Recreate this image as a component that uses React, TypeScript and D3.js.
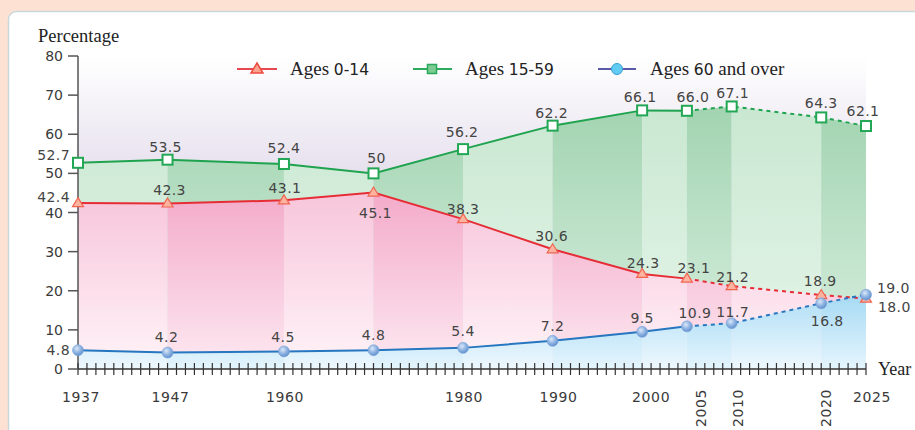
import React from 'react'
import * as d3 from 'd3'

// census / projection years and the share of each age group (%)
const years = [1937, 1947, 1960, 1970, 1980, 1990, 2000, 2005, 2010, 2020, 2025]
const ages0to14 = [42.4, 42.3, 43.1, 45.1, 38.3, 30.6, 24.3, 23.1, 21.2, 18.9, 18.0]
const ages15to59 = [52.7, 53.5, 52.4, 50, 56.2, 62.2, 66.1, 66.0, 67.1, 64.3, 62.1]
const ages60plus = [4.8, 4.2, 4.5, 4.8, 5.4, 7.2, 9.5, 10.9, 11.7, 16.8, 19.0]

// label texts as printed
const labels0to14 = ['42.4', '42.3', '43.1', '45.1', '38.3', '30.6', '24.3', '23.1', '21.2', '18.9', '18.0']
const labels15to59 = ['52.7', '53.5', '52.4', '50', '56.2', '62.2', '66.1', '66.0', '67.1', '64.3', '62.1']
const labels60plus = ['4.8', '4.2', '4.5', '4.8', '5.4', '7.2', '9.5', '10.9', '11.7', '16.8', '19.0']

const xTickLabels = [1937, 1947, 1960, 1980, 1990, 2000, 2025]
const xTickLabelsRotated = [2005, 2010, 2020]
const yTicks = [0, 10, 20, 30, 40, 50, 60, 70, 80]

// first projected point: dashed from here on
const dashFrom = 7

// label offsets [dx, dy, anchor]
type Off = [number, number, string]
const off0to14: Off[] = [
  [-8, -1.5, 'end'], [2, -9, 'middle'], [1, -7, 'middle'], [2, 25, 'middle'], [0, -5, 'middle'],
  [-1, -8, 'middle'], [1, -6, 'middle'], [7, -6, 'middle'], [1, -4, 'middle'], [-1, -9, 'middle'], [12, 13, 'start']
]
const off15to59: Off[] = [
  [-8, -3, 'end'], [-2, -8, 'middle'], [0, -11, 'middle'], [3, -10, 'middle'], [-1, -12, 'middle'],
  [-1, -8, 'middle'], [-2, -8, 'middle'], [6, -9, 'middle'], [1, -8, 'middle'], [0, -9, 'middle'], [-3, -10, 'middle']
]
const off60plus: Off[] = [
  [-8, 5, 'end'], [-1, -11, 'middle'], [-1, -9, 'middle'], [0, -10, 'middle'], [0, -12, 'middle'],
  [0, -10, 'middle'], [0, -9, 'middle'], [8, -8, 'middle'], [1, -6, 'middle'], [6, 23, 'middle'], [11, -2, 'start']
]
const tickLabelDx: Record<number, number> = { 1937: 3, 1947: 3, 1960: 1, 1980: 1, 1990: 6, 2000: 9, 2005: 14, 2010: 6, 2020: 5, 2025: 6 }

const W = 915
const H = 430
const sans = '"DejaVu Sans", Verdana, sans-serif'
const serif = '"Liberation Serif", "Times New Roman", serif'

const App: React.FC = () => {
  const x = d3.scaleLinear().domain([1937, 2025]).range([78, 866])
  const y = d3.scaleLinear().domain([0, 80]).range([369, 56])
  const idx = d3.range(years.length)

  const line = (vals: number[]) =>
    d3.line<number>().x((i) => x(years[i])).y((i) => y(vals[i]))
  const area = (vals: number[]) =>
    d3.area<number>().x((i) => x(years[i])).y0(y(0)).y1((i) => y(vals[i]))

  // each stretch between two years gets its own band, alternating light / dark
  const segments = (vals: number[], key: string) =>
    idx.slice(0, -1).map((i) => (
      <path
        key={key + i}
        d={area(vals)([i, i + 1]) || ''}
        fill={`url(#${key}${i % 2 === 1 ? 'Dark' : 'Light'})`}
      />
    ))

  const series = [
    { vals: ages15to59, color: '#1fa34f', labels: labels15to59, off: off15to59, marker: 'square' },
    { vals: ages0to14, color: '#e62d36', labels: labels0to14, off: off0to14, marker: 'triangle' },
    { vals: ages60plus, color: '#2676c0', labels: labels60plus, off: off60plus, marker: 'circle' }
  ]

  const marker = (kind: string, cx: number, cy: number, key: string) => {
    if (kind === 'square')
      return <rect key={key} x={cx - 5} y={cy - 5} width={10} height={10} fill="#fff" stroke="#22a755" strokeWidth={2} />
    if (kind === 'triangle')
      return <path key={key} d={`M${cx},${cy - 5.5}L${cx + 5.5},${cy + 3.5}L${cx - 5.5},${cy + 3.5}Z`} fill="#fcb3a0" stroke="#f06450" strokeWidth={1.2} />
    return <circle key={key} cx={cx} cy={cy} r={5.5} fill="url(#ball)" stroke="#7aa3d8" strokeWidth={0.6} />
  }

  const grad = (id: string, y1: number, y2: number, c1: string, c2: string) => (
    <linearGradient id={id} gradientUnits="userSpaceOnUse" x1={0} x2={0} y1={y1} y2={y2}>
      <stop offset="0" stopColor={c1} />
      <stop offset="1" stopColor={c2} />
    </linearGradient>
  )

  return (
    <svg width={W} height={H} style={{ position: 'absolute', left: 0, top: 0 }}>
      <defs>
        {grad('bg', 56, 170, '#ffffff', '#e7e1ee')}
        {grad('gLight', 60, 360, '#c3e5cc', '#e6f5ea')}
        {grad('gDark', 60, 360, '#98cfa8', '#d9efe0')}
        {grad('pLight', 185, 369, '#f7c3d9', '#fff4f8')}
        {grad('pDark', 185, 369, '#f3a8c8', '#fde9f1')}
        {grad('bLight', 290, 369, '#abdcf5', '#eef8fe')}
        {grad('bDark', 290, 369, '#a2d8f3', '#e5f5fd')}
        <radialGradient id="ball" cx="0.4" cy="0.35" r="0.7">
          <stop offset="0" stopColor="#dbe8f8" />
          <stop offset="0.5" stopColor="#92b6e3" />
          <stop offset="1" stopColor="#5a8bcc" />
        </radialGradient>
      </defs>

      <rect width={W} height={H} fill="#fde2d3" />
      <rect x={8.5} y={11.5} width={W} height={H} rx={8} fill="#fff" stroke="#c8d8dc" strokeWidth={1.5} />

      <rect x={x(1937)} y={y(80)} width={x(2025) - x(1937)} height={y(0) - y(80)} fill="url(#bg)" />

      {segments(ages15to59, 'g')}
      {segments(ages0to14, 'p')}
      {segments(ages60plus, 'b')}

      {/* axes */}
      <line x1={x(1937)} x2={x(2025)} y1={y(0)} y2={y(0)} stroke="#333" strokeWidth={1.5} />
      <line x1={x(1937)} x2={x(1937)} y1={y(0)} y2={y(80)} stroke="#555" strokeWidth={1.5} />
      {d3.range(1937, 2026).map((yr) => (
        <line key={yr} x1={x(yr)} x2={x(yr)} y1={y(0) - 6} y2={y(0) + 6} stroke="#333" strokeWidth={1.2} />
      ))}
      {yTicks.map((t) => (
        <g key={t}>
          <line x1={x(1937) - 10} x2={x(1937)} y1={y(t)} y2={y(t)} stroke="#555" strokeWidth={1.5} />
          <text x={63} y={y(t) + 5} textAnchor="end" fontFamily={sans} fontSize={14} fill="#3a3a3a">{t}</text>
        </g>
      ))}
      {xTickLabels.map((t) => (
        <text key={t} x={x(t) + (tickLabelDx[t] || 0)} y={402} textAnchor="middle" fontFamily={sans} fontSize={14} letterSpacing={0.6} fill="#3a3a3a">{t}</text>
      ))}
      {xTickLabelsRotated.map((t) => {
        const tx = x(t) + (tickLabelDx[t] || 0) + 5
        return (
          <text key={t} transform={`translate(${tx},408) rotate(-90)`} textAnchor="middle" fontFamily={sans} fontSize={14} letterSpacing={0.6} fill="#3a3a3a">{t}</text>
        )
      })}

      <text x={38} y={42} fontFamily={serif} fontSize={18.5} fill="#222">Percentage</text>
      <text x={878} y={375} fontFamily={serif} fontSize={18} fill="#222">Year</text>

      {/* lines, solid up to 2005 and dashed after */}
      {series.map((s) => (
        <g key={s.color}>
          <path d={line(s.vals)(idx.slice(0, dashFrom + 1)) || ''} fill="none" stroke={s.color} strokeWidth={2} />
          <path d={line(s.vals)(idx.slice(dashFrom)) || ''} fill="none" stroke={s.color} strokeWidth={2} strokeDasharray="4 4" />
        </g>
      ))}
      {series.map((s) => idx.map((i) => marker(s.marker, x(years[i]), y(s.vals[i]), s.marker + i)))}
      {series.map((s) =>
        idx.map((i) => (
          <text
            key={s.marker + 'l' + i}
            x={x(years[i]) + s.off[i][0]}
            y={y(s.vals[i]) + s.off[i][1]}
            textAnchor={s.off[i][2]}
            fontFamily={sans}
            fontSize={14}
            letterSpacing={0.4}
            fill="#444"
          >
            {s.labels[i]}
          </text>
        ))
      )}

      {/* legend */}
      <g fontFamily={serif} fontSize={19} fill="#222">
        <line x1={237} x2={277} y1={69} y2={69} stroke="#e8474f" strokeWidth={2} />
        <path d="M257,63L263,73L251,73Z" fill="#fba38e" stroke="#ef4a40" strokeWidth={1.5} />
        <text x={290} y={75}>Ages <tspan fontFamily={sans} fontSize={15.5}>0-14</tspan></text>

        <line x1={413} x2={452} y1={69} y2={69} stroke="#2bab5e" strokeWidth={2} />
        <rect x={427.5} y={64.5} width={9} height={9} fill="#7ccc92" stroke="#2aa85a" strokeWidth={1.5} />
        <text x={465} y={75}>Ages <tspan fontFamily={sans} fontSize={15.5}>15-59</tspan></text>

        <line x1={598} x2={636} y1={69} y2={69} stroke="#5a5aa8" strokeWidth={2} />
        <circle cx={617} cy={69} r={5.5} fill="#62cbf1" stroke="#3a9fd8" strokeWidth={1} />
        <text x={650} y={75}>Ages <tspan fontFamily={sans} fontSize={15.5}>60</tspan> and over</text>
      </g>
    </svg>
  )
}

export default App
